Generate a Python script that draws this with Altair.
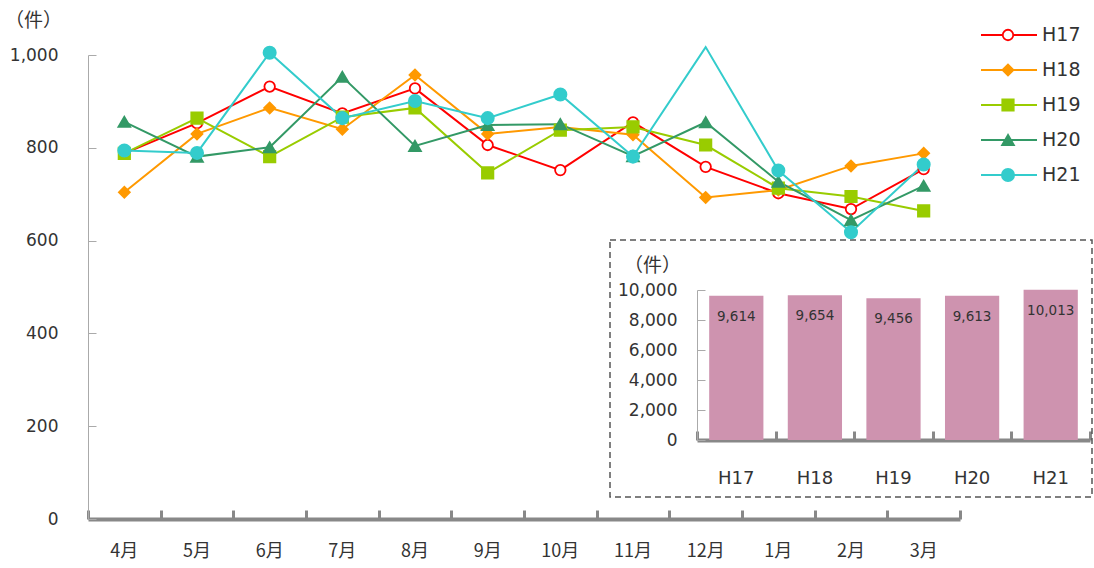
import altair as alt
import pandas as pd

# Monthly counts per fiscal year (April to March)
months = ["4月", "5月", "6月", "7月", "8月", "9月", "10月", "11月", "12月", "1月", "2月", "3月"]
series = ["H17", "H18", "H19", "H20", "H21"]
h17 = [788, 853, 932, 874, 928, 806, 752, 855, 759, 702, 668, 754]
h18 = [704, 830, 886, 840, 957, 830, 845, 828, 693, 709, 761, 788]
h19 = [788, 864, 781, 866, 886, 746, 838, 845, 806, 713, 695, 664]
h20 = [856, 781, 801, 953, 804, 849, 851, 782, 855, 727, 644, 718]
h21 = [794, 789, 1005, 864, 901, 864, 915, 781, 1017, 751, 618, 764]

# Annual totals for the inset bar chart
totals = [9614, 9654, 9456, 9613, 10013]

y_ticks = [0, 200, 400, 600, 800, 1000]
inset_ticks = [0, 2000, 4000, 6000, 8000, 10000]

line_colors = ["#FF0000", "#FF9900", "#99CC00", "#339966", "#33CCCC"]
marker_fills = ["#FFFFFF", "#FF9900", "#99CC00", "#339966", "#33CCCC"]
shapes = ["circle", "diamond", "square", "triangle-up", "circle"]
marker_sizes = [110, 150, 125, 150, 120]

rows = []
for name, vals in zip(series, [h17, h18, h19, h20, h21]):
    for i, (m, v) in enumerate(zip(months, vals)):
        rows.append({"series": name, "month": m, "idx": i, "value": v})
df = pd.DataFrame(rows)
inset_df = pd.DataFrame({"year": series, "total": totals})
legend_df = pd.DataFrame({"series": series})

W, H = 872, 464
JP = "Noto Sans CJK JP"
LAT = "DejaVu Sans"
TXT = "#333333"

color_scale = alt.Scale(domain=series, range=line_colors)
fill_scale = alt.Scale(domain=series, range=marker_fills)
shape_scale = alt.Scale(domain=series, range=shapes)
size_scale = alt.Scale(domain=series, range=marker_sizes)

x_main = alt.Scale(domain=months, type="band", paddingInner=0, paddingOuter=0)
y_main = alt.Scale(domain=[0, 1000], nice=False)

# ---- main line chart ----
lines = alt.Chart(df).mark_line(strokeWidth=2).encode(
    x=alt.X("month:N", scale=x_main, bandPosition=0.5,
            axis=alt.Axis(orient="bottom", domain=False, ticks=False, labelAngle=0,
                          labelPadding=23, labelFont=JP, labelFontSize=18,
                          labelColor=TXT, title=None, grid=False)),
    y=alt.Y("value:Q", scale=y_main,
            axis=alt.Axis(orient="left", domain=False, ticks=False, values=y_ticks,
                          format=",d", labelPadding=30, labelFont=LAT, labelFontSize=17,
                          labelColor=TXT, grid=False, title="（件）", titleAngle=0,
                          titleX=-55, titleY=-35, titleAlign="center",
                          titleBaseline="middle", titleFont=JP, titleFontSize=19,
                          titleFontWeight="normal", titleColor=TXT)),
    color=alt.Color("series:N", scale=color_scale, legend=None),
    order=alt.Order("idx:Q"),
)

# markers; points above the frame carry no marker
points = alt.Chart(df).transform_filter(alt.datum.value <= 1010).mark_point(
    opacity=1, strokeWidth=1.8
).encode(
    x=alt.X("month:N", scale=x_main, bandPosition=0.5,
            axis=alt.Axis(orient="top", offset=-H, labels=False, tickBand="extent",
                          tickSize=9, tickWidth=3, tickColor="#888888",
                          domainColor="#888888", domainWidth=4, title=None, grid=False)),
    y=alt.Y("value:Q", scale=y_main,
            axis=alt.Axis(orient="right", offset=-W, labels=False, values=y_ticks,
                          tickSize=8, tickColor="#AAAAAA", domainColor="#AAAAAA",
                          domainWidth=1, title=None, grid=False)),
    stroke=alt.Stroke("series:N", scale=color_scale, legend=None),
    fill=alt.Fill("series:N", scale=fill_scale, legend=None),
    shape=alt.Shape("series:N", scale=shape_scale, legend=None),
    size=alt.Size("series:N", scale=size_scale, legend=None),
)

main = alt.layer(lines, points).resolve_axis(x="independent", y="independent")

# ---- inset: annual totals ----
x_in = alt.Scale(domain=series, type="band", range=[609, 1002], paddingInner=0, paddingOuter=0)
y_in = alt.Scale(domain=[0, 10000], range=[385, 235], nice=False)

bars = alt.Chart(inset_df).mark_bar(width=alt.RelativeBandSize(0.69), color="#CE93AF").encode(
    x=alt.X("year:N", scale=x_in,
            axis=alt.Axis(orient="bottom", offset=-79, domain=False, ticks=False,
                          labelAngle=0, labelPadding=29, labelFont=LAT, labelFontSize=18,
                          labelColor=TXT, title=None, grid=False)),
    y=alt.Y("total:Q", scale=y_in,
            axis=alt.Axis(orient="left", offset=-609, domain=False, ticks=False,
                          values=inset_ticks, format=",d", labelPadding=20,
                          labelFont=LAT, labelFontSize=17, labelColor=TXT, grid=False,
                          title="（件）", titleAngle=0, titleX=-45, titleY=210,
                          titleAlign="center", titleBaseline="middle", titleFont=JP,
                          titleFontSize=19, titleFontWeight="normal", titleColor=TXT)),
)

bar_labels = alt.Chart(inset_df).mark_text(
    dy=21, fontSize=13.5, font=LAT, color=TXT, baseline="middle"
).encode(
    x=alt.X("year:N", scale=x_in, bandPosition=0.5,
            axis=alt.Axis(orient="top", offset=-385, labels=False, tickBand="extent",
                          tickSize=9, tickWidth=3, tickColor="#888888",
                          domainColor="#888888", domainWidth=4, title=None, grid=False)),
    y=alt.Y("total:Q", scale=y_in,
            axis=alt.Axis(orient="right", offset=-263, labels=False, values=inset_ticks,
                          tickSize=8, tickColor="#AAAAAA", domainColor="#AAAAAA",
                          domainWidth=1, title=None, grid=False)),
    text=alt.Text("total:Q", format=","),
)

inset = alt.layer(bars, bar_labels).resolve_axis(x="independent", y="independent")

# dashed frame around the inset
frame = alt.Chart(alt.Data(values=[{}])).mark_rect(
    fillOpacity=0, stroke="#555555", strokeWidth=1.5, strokeDash=[6, 4]
).encode(
    x=alt.value(522), x2=alt.value(1004), y=alt.value(185), y2=alt.value(442)
)

# ---- legend: line segment with marker and label ----
leg_y = alt.Scale(domain=series, type="point", range=[-20, 120], padding=0)

leg_lines = alt.Chart(legend_df).mark_rule(strokeWidth=2).encode(
    x=alt.value(893), x2=alt.value(949),
    y=alt.Y("series:N", scale=leg_y, axis=None),
    color=alt.Color("series:N", scale=color_scale, legend=None),
)
leg_marks = alt.Chart(legend_df).mark_point(opacity=1, strokeWidth=1.8).encode(
    x=alt.value(920),
    y=alt.Y("series:N", scale=leg_y, axis=None),
    stroke=alt.Stroke("series:N", scale=color_scale, legend=None),
    fill=alt.Fill("series:N", scale=fill_scale, legend=None),
    shape=alt.Shape("series:N", scale=shape_scale, legend=None),
    size=alt.Size("series:N", scale=size_scale, legend=None),
)
leg_text = alt.Chart(legend_df).mark_text(
    align="left", baseline="middle", fontSize=19, font=LAT, color=TXT
).encode(
    x=alt.value(954),
    y=alt.Y("series:N", scale=leg_y, axis=None),
    text="series:N",
)
legend = alt.layer(leg_lines, leg_marks, leg_text)

chart = alt.layer(frame, inset, main, legend).resolve_scale(
    x="independent", y="independent"
).properties(
    width=W, height=H,
    autosize=alt.AutoSizeParams(type="none"),
    padding={"left": 88, "top": 55, "right": 134, "bottom": 49},
    background="white",
).configure_view(stroke=None)

chart.save("out.html", embed_options={"renderer": "svg", "actions": False})
